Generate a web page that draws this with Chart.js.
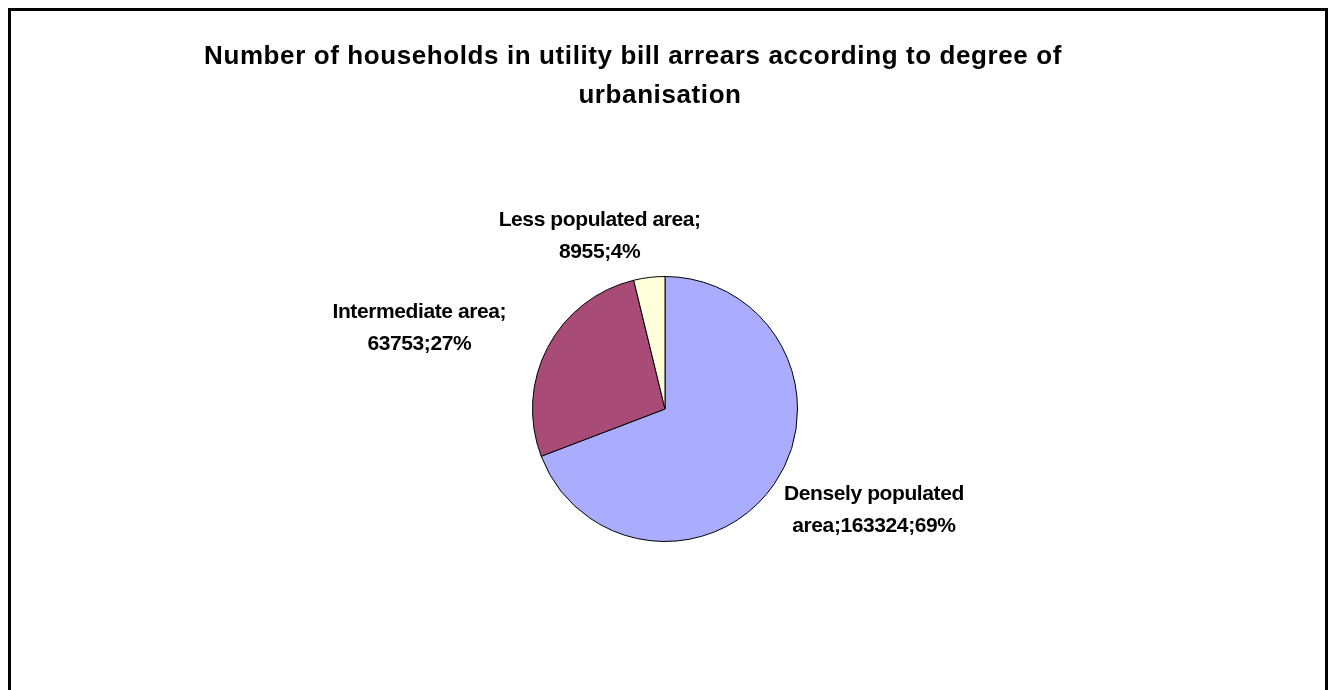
<!DOCTYPE html>
<html>
<head>
<meta charset="utf-8">
<script src="https://cdn.jsdelivr.net/npm/chart.js@4.4.0/dist/chart.umd.min.js"></script>
<style>
  html, body { margin: 0; padding: 0; background: #fff; overflow: hidden; }
  #wrap { position: relative; width: 1338px; height: 690px; }
  #frame { position: absolute; left: 8px; top: 8px; width: 1320px; height: 700px; border: 3px solid #000; box-sizing: border-box; }
  .title { position: absolute; width: 1000px; text-align: center; white-space: nowrap;
    font: bold 26px 'Liberation Sans', Arial, sans-serif; letter-spacing: 0.6px; line-height: 39px; color: #000; }
  canvas { position: absolute; left: 0; top: 0; }
</style>
</head>
<body>
<div id="wrap">
  <div id="frame"></div>
  <canvas id="pie" width="1338" height="690"></canvas>
  <div class="title" style="left:133px; top:36px;">Number of households in utility bill arrears according to degree of</div>
  <div class="title" style="left:160px; top:75px;">urbanisation</div>
</div>
<script>
const categories = ['Densely populated area', 'Intermediate area', 'Less populated area'];
const households = [163324, 63753, 8955];
const shares = [69, 27, 4];
// label lines as Excel wraps them
const labelLines = [
  ['Densely populated', 'area;163324;69%'],
  ['Intermediate area;', '63753;27%'],
  ['Less populated area;', '8955;4%']
];
const colors = ['#AAACFE', '#A84B77', '#FFFFDA'];
// horizontal nudge of each label box (px)
const labelNudge = [15, -40, -36];

const ctx = document.getElementById('pie').getContext('2d');

const outsideLabels = {
  id: 'outsideLabels',
  afterDatasetsDraw(chart) {
    const c = chart.ctx;
    const arcs = chart.getDatasetMeta(0).data;
    c.save();
    c.font = "bold 21px 'Liberation Sans', Arial, sans-serif";
    if ('letterSpacing' in c) c.letterSpacing = '-0.4px';
    c.fillStyle = '#000';
    c.textAlign = 'center';
    c.textBaseline = 'alphabetic';
    const lh = 32;
    arcs.forEach((arc, i) => {
      const p = arc.getProps(['x', 'y', 'startAngle', 'endAngle', 'outerRadius'], true);
      const mid = (p.startAngle + p.endAngle) / 2;
      const dx = Math.cos(mid), dy = Math.sin(mid);
      const r = p.outerRadius + 13;
      const lines = labelLines[i];
      const w = Math.max(...lines.map(t => c.measureText(t).width));
      const h = lines.length * 30;
      const cx = p.x + dx * r + dx * w / 2 + labelNudge[i];
      const cy = p.y + dy * r + dy * h / 2;
      // baselines of the two lines around the box centre
      const b0 = cy - lh * (lines.length - 1) / 2 + 7;
      lines.forEach((t, k) => c.fillText(t, cx, b0 + k * lh));
    });
    c.restore();
  }
};

new Chart(ctx, {
  type: 'pie',
  data: {
    labels: categories,
    datasets: [{
      data: households,
      backgroundColor: colors,
      borderColor: '#000',
      borderWidth: 1
    }]
  },
  options: {
    responsive: false,
    animation: false,
    layout: { padding: { top: 276, bottom: 148, left: 532, right: 540 } },
    plugins: {
      legend: { display: false },
      tooltip: {
        callbacks: {
          label: c => `${c.label}: ${c.parsed} (${shares[c.dataIndex]}%)`
        }
      }
    }
  },
  plugins: [outsideLabels]
});
</script>
</body>
</html>
